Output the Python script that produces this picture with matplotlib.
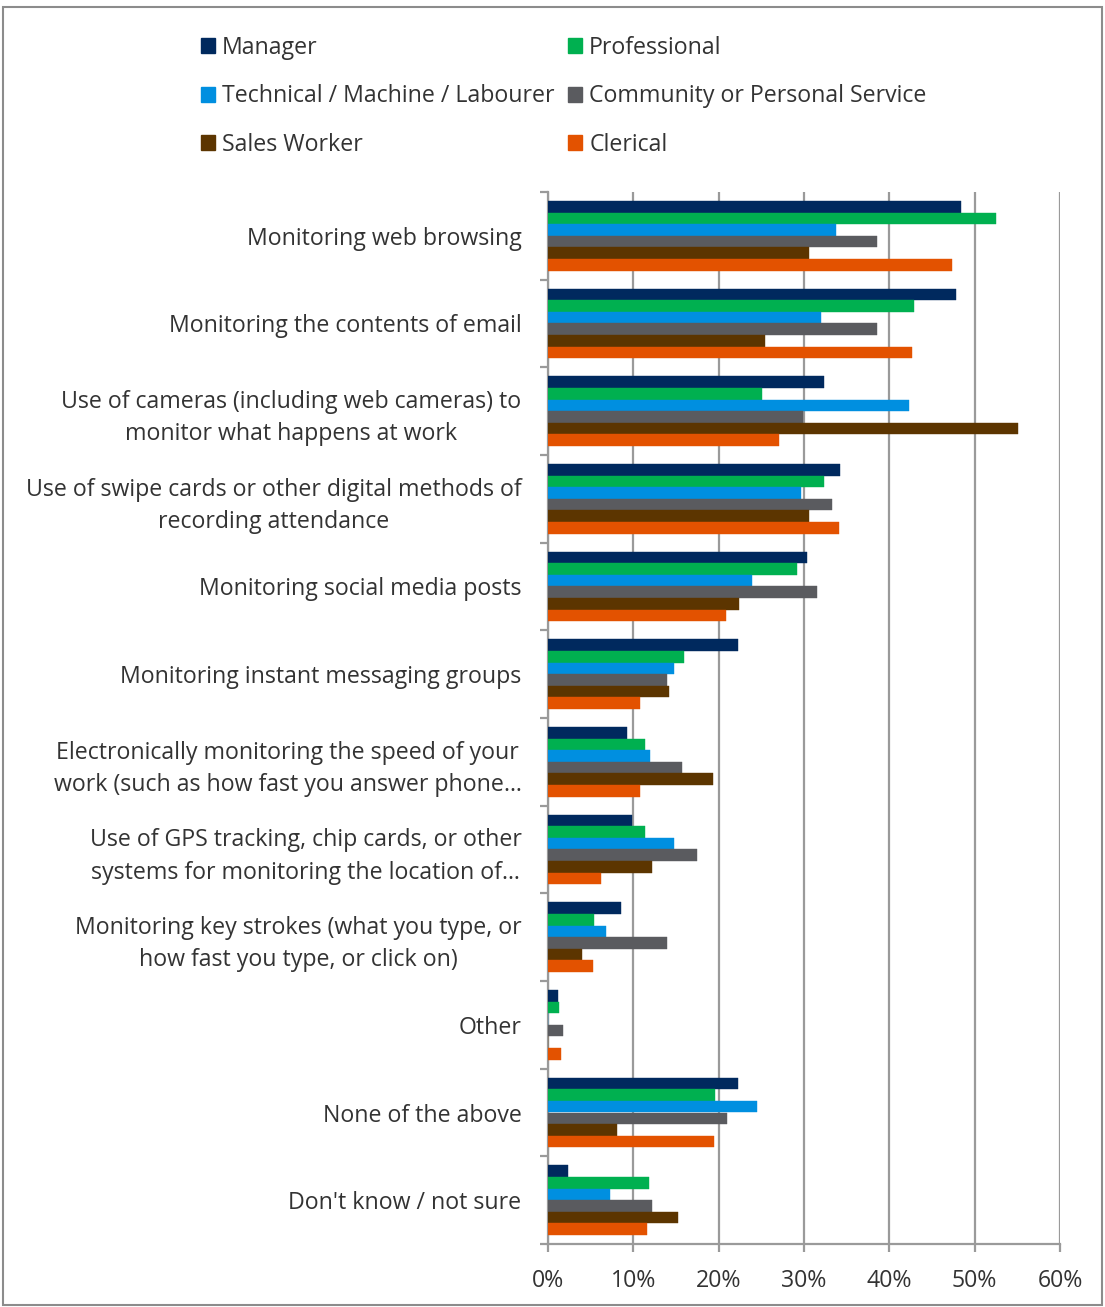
import matplotlib
matplotlib.use("Agg")
import matplotlib.pyplot as plt
import numpy as np
from matplotlib.patches import Rectangle, Patch
from matplotlib.ticker import FixedLocator, FuncFormatter

plt.rcParams['font.family'] = ['Open Sans', 'DejaVu Sans']

categories = [
    "Monitoring web browsing",
    "Monitoring the contents of email",
    "Use of cameras (including web cameras) to\nmonitor what happens at work",
    "Use of swipe cards or other digital methods of\nrecording attendance",
    "Monitoring social media posts",
    "Monitoring instant messaging groups",
    "Electronically monitoring the speed of your\nwork (such as how fast you answer phone…",
    "Use of GPS tracking, chip cards, or other\nsystems for monitoring the location of…",
    "Monitoring key strokes (what you type, or\nhow fast you type, or click on)",
    "Other",
    "None of the above",
    "Don't know / not sure",
]

series_names = ["Manager", "Professional", "Technical / Machine / Labourer",
                "Community or Personal Service", "Sales Worker", "Clerical"]

manager      = [48.4, 47.8, 32.3, 34.2, 30.4, 22.3, 9.3, 9.8, 8.6, 1.2, 22.3, 2.4]
professional = [52.5, 42.9, 25.1, 32.4, 29.2, 15.9, 11.4, 11.4, 5.4, 1.3, 19.6, 11.8]
technical    = [33.7, 32.0, 42.3, 29.7, 23.9, 14.8, 11.9, 14.8, 6.8, 0.0, 24.5, 7.3]
community    = [38.6, 38.6, 29.9, 33.3, 31.5, 14.0, 15.7, 17.5, 14.0, 1.7, 21.0, 12.2]
sales        = [30.6, 25.4, 55.1, 30.6, 22.4, 14.2, 19.3, 12.2, 4.0, 0.0, 8.1, 15.2]
clerical     = [47.3, 42.6, 27.1, 34.1, 20.9, 10.8, 10.8, 6.2, 5.3, 1.5, 19.4, 11.6]

xticks = [0, 10, 20, 30, 40, 50, 60]

colors = ["#00295E", "#00B050", "#008FE0", "#5A5B5F", "#5C3500", "#E35200"]
text_col = "#333333"
fs = 16.7

W, H = 1105, 1307
fig = plt.figure(figsize=(W / 100, H / 100), dpi=100)
fig.patch.set_facecolor("white")

# outer frame
fig.patches.append(Rectangle((3 / W, 2 / H), 1099 / W, (H - 9) / H, transform=fig.transFigure,
                             fill=False, edgecolor="#8C8C8C", linewidth=1.5))

left, right, top, bottom = 548, 1060, 192, 1244
ax = fig.add_axes([left / W, 1 - bottom / H, (right - left) / W, (bottom - top) / H])

all_series = [manager, professional, technical, community, sales, clerical]
n_cat = len(categories)
y = np.arange(n_cat)
h = 0.132
for j, (vals, col) in enumerate(zip(all_series, colors)):
    offs = -3 * h + (j + 0.5) * h
    ax.barh(y + offs, vals, height=h, color=col, edgecolor=col, linewidth=0.3,
            label=series_names[j], zorder=3)

ax.set_xlim(0, 60)
ax.set_ylim(n_cat - 0.5, -0.5)

grid_col = "#9A9A9A"
ax.xaxis.set_major_locator(FixedLocator(xticks))
ax.xaxis.set_major_formatter(FuncFormatter(lambda v, p: f"{int(v)}%"))
ax.grid(axis="x", color=grid_col, linewidth=1.6, zorder=0)
ax.set_axisbelow(True)

ax.yaxis.set_major_locator(FixedLocator(np.arange(-0.5, n_cat, 1.0)))
ax.yaxis.set_major_formatter(FuncFormatter(lambda v, p: ""))
ax.yaxis.set_minor_locator(FixedLocator(y))
ax.set_yticklabels(categories, minor=True)

for s in ["top", "right"]:
    ax.spines[s].set_visible(False)
for s in ["left", "bottom"]:
    ax.spines[s].set_color(grid_col)
    ax.spines[s].set_linewidth(1.6)

ax.tick_params(axis="y", which="major", direction="out", length=6, width=1.6, color=grid_col)
ax.tick_params(axis="y", which="minor", length=0, pad=19, labelsize=fs, labelcolor=text_col)
ax.tick_params(axis="x", which="major", direction="out", length=6, width=1.6, color=grid_col,
               pad=12, labelsize=fs, labelcolor=text_col)
for lbl in ax.get_yticklabels(minor=True):
    lbl.set_multialignment("center")
    lbl.set_linespacing(1.45)

# legend: two columns, row-major order
order = [0, 2, 4, 1, 3, 5]
handles = [Patch(facecolor=colors[i], edgecolor=colors[i]) for i in order]
labels = [series_names[i] for i in order]
leg = fig.legend(handles, labels, ncol=2, loc="upper left",
                 bbox_to_anchor=(201 / W, 1 - 36 / H), frameon=False,
                 fontsize=fs, handlelength=0.6, handleheight=0.6,
                 handletextpad=0.3, columnspacing=0.6, labelspacing=1.05,
                 borderaxespad=0, borderpad=0)
for t in leg.get_texts():
    t.set_color(text_col)

fig.savefig("out.png", dpi=100, facecolor="white")
